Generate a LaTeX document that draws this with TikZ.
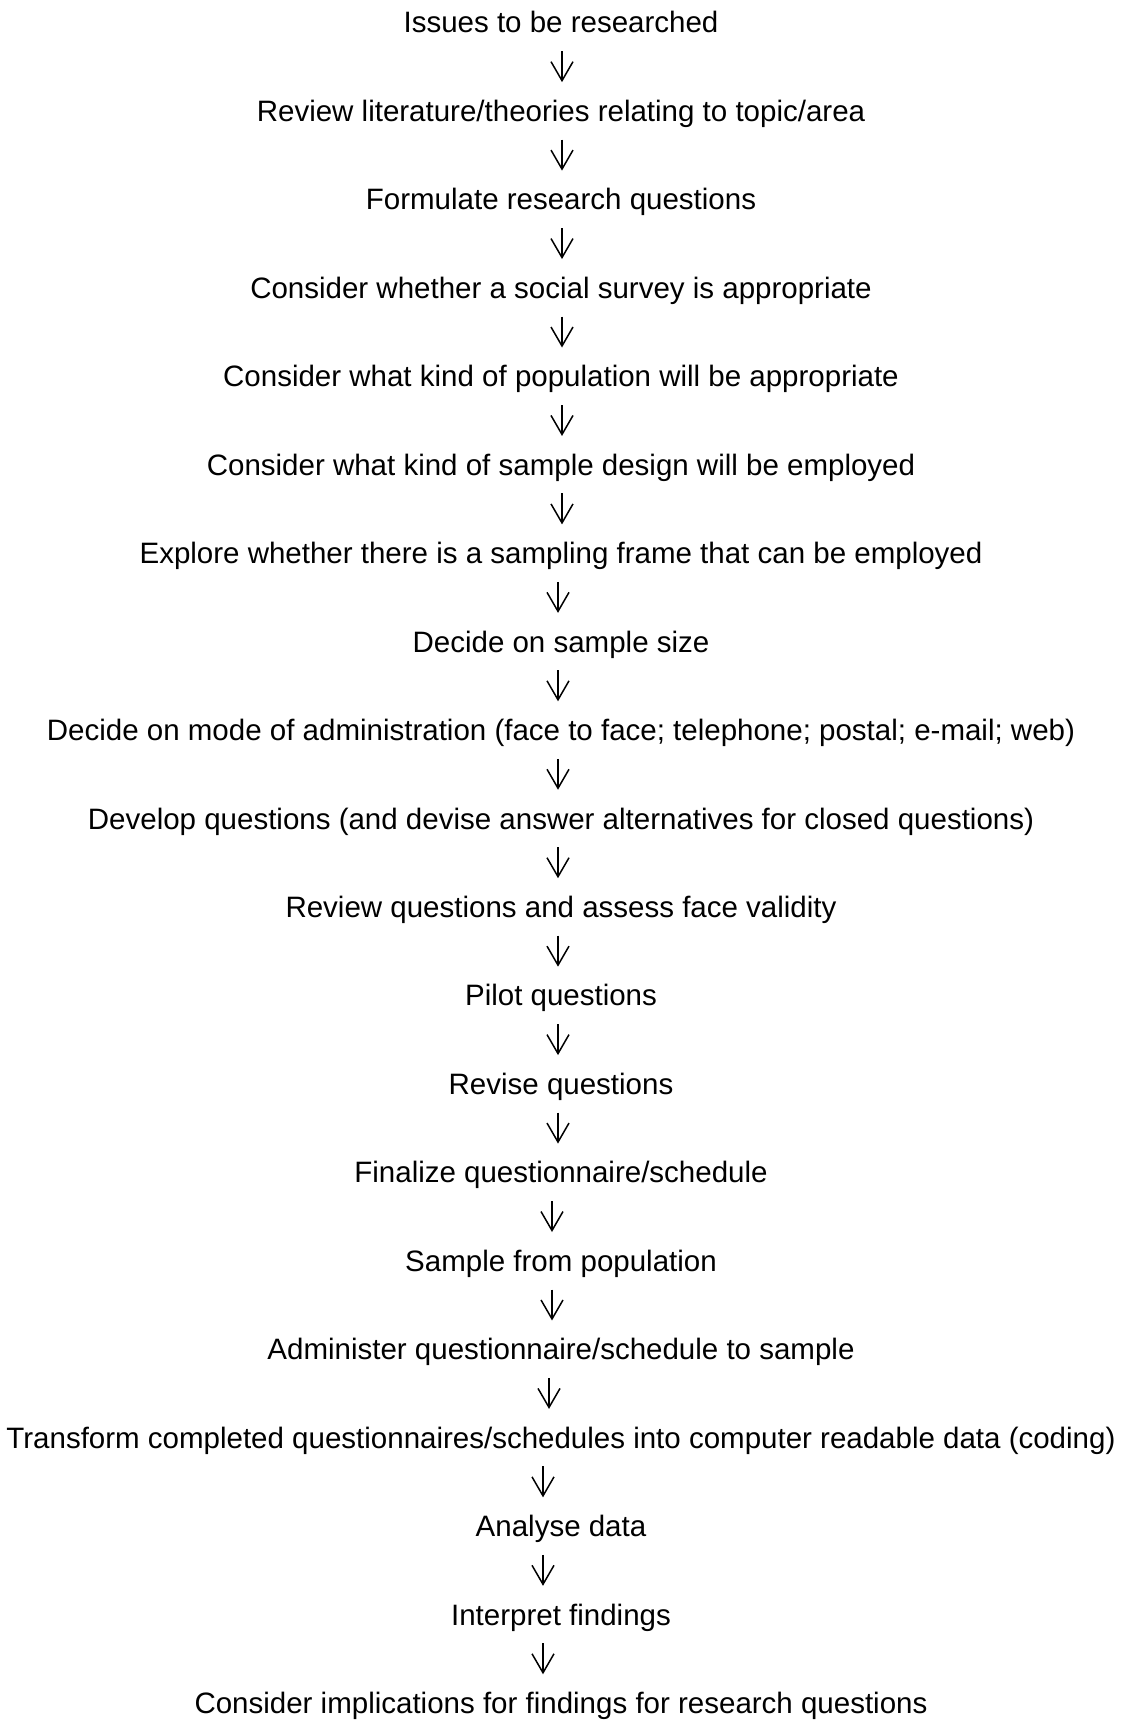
\documentclass[tikz,border=0pt]{standalone}
\usepackage{fontspec}
\setmainfont{Liberation Sans}
\usetikzlibrary{arrows.meta}
\begin{document}
\begin{tikzpicture}[x=1pt,y=-1pt,
  stage/.style={anchor=base, inner xsep=0pt, inner ysep=18pt,
    text height=21.1pt, text depth=0pt,
    font=\fontsize{29.5}{35}\selectfont},
  arr/.style={-{Straight Barb[length=19pt,width=22pt,line width=1.5pt]}, line width=1.5pt}]
\useasboundingbox (0,0) rectangle (1122,1720);
\def\sp{88.45}
\node[stage] (n1)  at (561,33+0*\sp)  {Issues to be researched};
\node[stage] (n2)  at (561,33+1*\sp)  {Review literature/theories relating to topic/area};
\node[stage] (n3)  at (561,33+2*\sp)  {Formulate research questions};
\node[stage] (n4)  at (561,33+3*\sp)  {Consider whether a social survey is appropriate};
\node[stage] (n5)  at (561,33+4*\sp)  {Consider what kind of population will be appropriate};
\node[stage] (n6)  at (561,33+5*\sp)  {Consider what kind of sample design will be employed};
\node[stage] (n7)  at (561,33+6*\sp)  {Explore whether there is a sampling frame that can be employed};
\node[stage] (n8)  at (561,33+7*\sp)  {Decide on sample size};
\node[stage] (n9)  at (561,33+8*\sp)  {Decide on mode of administration (face to face; telephone; postal; e-mail; web)};
\node[stage] (n10) at (561,33+9*\sp)  {Develop questions (and devise answer alternatives for closed questions)};
\node[stage] (n11) at (561,33+10*\sp) {Review questions and assess face validity};
\node[stage] (n12) at (561,33+11*\sp) {Pilot questions};
\node[stage] (n13) at (561,33+12*\sp) {Revise questions};
\node[stage] (n14) at (561,33+13*\sp) {Finalize questionnaire/schedule};
\node[stage] (n15) at (561,33+14*\sp) {Sample from population};
\node[stage] (n16) at (561,33+15*\sp) {Administer questionnaire/schedule to sample};
\node[stage] (n17) at (561,33+16*\sp) {Transform completed questionnaires/schedules into computer readable data (coding)};
\node[stage] (n18) at (561,33+17*\sp) {Analyse data};
\node[stage] (n19) at (561,33+18*\sp) {Interpret findings};
\node[stage] (n20) at (561,33+19*\sp) {Consider implications for findings for research questions};
\foreach \a/\b/\dx in {1/2/1,2/3/1,3/4/1,4/5/1,5/6/1,6/7/1,7/8/-3,8/9/-3,9/10/-3,10/11/-3,11/12/-3,12/13/-3,13/14/-3,14/15/-9,15/16/-9,16/17/-12,17/18/-18,18/19/-18,19/20/-18}
  \draw[arr] ([xshift=\dx pt]n\a.south) -- ([xshift=\dx pt]n\b.north);
\end{tikzpicture}
\end{document}
